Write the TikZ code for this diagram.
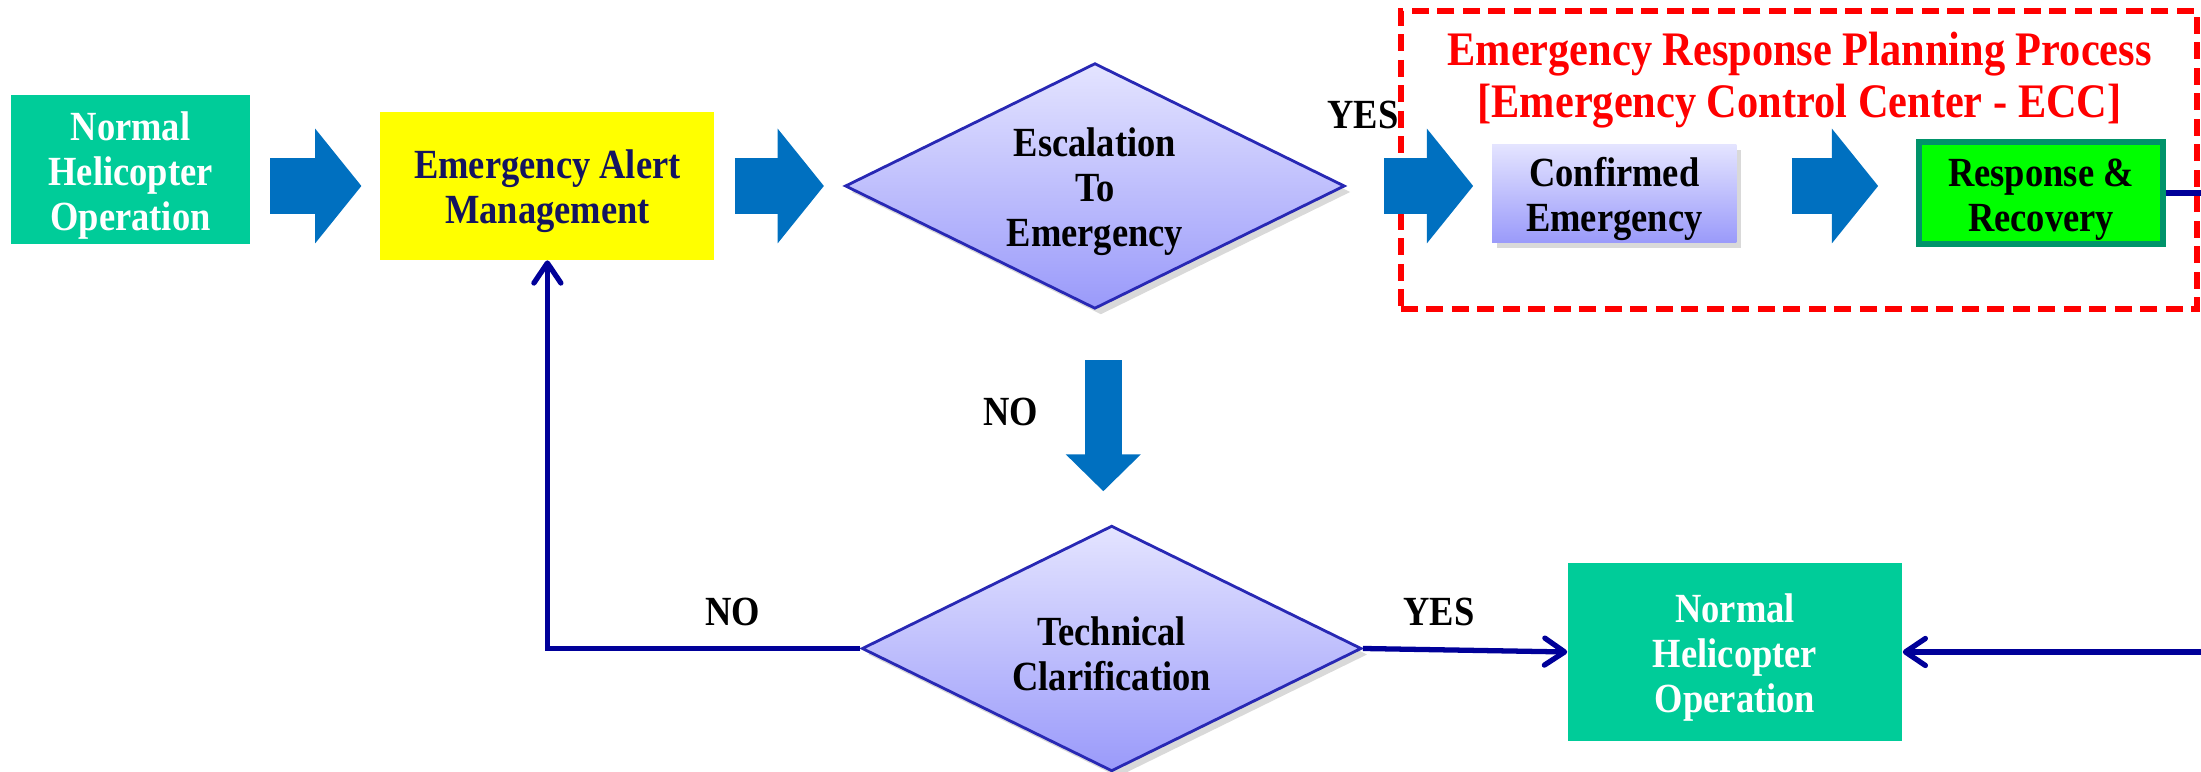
\documentclass[tikz,border=0pt]{standalone}
\usepackage{fontspec}
\setmainfont{Liberation Serif}[FakeStretch=0.88]
\usetikzlibrary{shapes.geometric,positioning,arrows.meta,shadows,calc}
\definecolor{opteal}{HTML}{00CC99}
\definecolor{alertyellow}{HTML}{FFFF00}
\definecolor{alertnavy}{HTML}{14145F}
\definecolor{flowblue}{HTML}{0070C0}
\definecolor{linknavy}{HTML}{000099}
\definecolor{diatop}{HTML}{E4E4FF}
\definecolor{diabot}{HTML}{9A9AFA}
\definecolor{diaedge}{HTML}{2828B4}
\definecolor{recgreen}{HTML}{00FF00}
\definecolor{recedge}{HTML}{00936A}
\definecolor{eccred}{HTML}{FF0000}
\newcommand{\boxtop}{\rule{0pt}{11.4pt}}

\begin{document}
\begin{tikzpicture}[
txt/.style={font=\fontsize{11.8}{12.8}\selectfont\bfseries, align=center},
boxtxt/.style={txt, inner sep=0pt},
opbox/.style={boxtxt, fill=opteal, text=white},
alertbox/.style={boxtxt, fill=alertyellow, text=alertnavy,
	minimum width=3.341cm, minimum height=1.474cm},
decision/.style={boxtxt, diamond, aspect=2,
	top color=diatop, bottom color=diabot, draw=diaedge, line width=0.8pt,
	drop shadow={shadow xshift=0.06cm, shadow yshift=-0.06cm, opacity=0.3},
	minimum width=4.997cm, minimum height=2.456cm},
confbox/.style={boxtxt, top color=diatop, bottom color=diabot,
	drop shadow={shadow xshift=0.05cm, shadow yshift=-0.05cm, opacity=0.3},
	minimum width=2.442cm, minimum height=0.983cm},
recbox/.style={boxtxt, fill=recgreen, draw=recedge, line width=1.6pt,
	minimum width=2.442cm, minimum height=1.025cm},
eccbox/.style={draw=eccred, line width=1.6pt, dash pattern=on 0.17cm off 0.085cm,
	minimum width=7.959cm, minimum height=2.976cm},
ecctitle/.style={font=\fontsize{13.7}{14.8}\selectfont\bfseries, text=eccred, align=center},
blockarrow/.style={draw=flowblue, line width=0.561cm,
	-{Triangle[length=0.463cm,width=1.123cm]}},
downarrow/.style={draw=flowblue, line width=0.37cm,
	-{Triangle[length=0.37cm,width=0.73cm]}},
link/.style={draw=linknavy, line width=1.5pt,
	-{Straight Barb[length=0.2cm,width=0.27cm,round]}},
answer/.style={txt},
]
	\useasboundingbox (0,0) rectangle (22.01,-7.72);

	% emergency control center frame
	\node[eccbox] (ecc) at (17.989,-1.600) {};
	\node[ecctitle] (title) at (17.996,-0.80) {Emergency Response Planning Process\\{[}Emergency Control Center - ECC{]}};

	% top row
	\node[opbox, minimum width=2.386cm, minimum height=1.488cm] (normalA) at (1.305,-1.698) {\boxtop Normal\\Helicopter\\Operation};
	\node[alertbox] (alert) at (5.474,-1.860) {\boxtop Emergency Alert\\Management};
	\node[decision] (escal) at (10.949,-1.860) {\boxtop Escalation\\To\\Emergency};
	\node[confbox] (confirm) at (16.143,-1.937) {\boxtop Confirmed\\Emergency};
	\node[recbox] (recover) at (20.410,-1.930) {\boxtop Response \&\\Recovery};

	% bottom row
	\node[decision] (clarif) at (11.117,-6.485) {\boxtop Technical\\Clarification};
	\node[opbox, minimum width=3.341cm, minimum height=1.783cm] (normalB) at (17.350,-6.520) {\boxtop Normal\\Helicopter\\Operation};

	% answers
	\node[answer] (yesA) at (13.63,-1.151) {YES};
	\node[answer] (noA) at (10.11,-4.115) {NO};
	\node[answer] (noB) at (7.327,-6.12) {NO};
	\node[answer] (yesB) at (14.388,-6.12) {YES};

	% block arrows
	\draw[blockarrow, shorten <=0.197cm, shorten >=0.182cm] (normalA.east |- alert.west) -- (alert.west);
	\draw[blockarrow, shorten <=0.197cm, shorten >=0.197cm] (alert.east) -- (escal.west);
	\draw[blockarrow, shorten <=0.379cm, shorten >=0.183cm] (escal.east) -- (confirm.west |- escal.east);
	\draw[blockarrow, shorten <=0.547cm, shorten >=0.379cm] (confirm.east |- escal.east) -- (recover.west |- escal.east);
	\coordinate (between) at ($(escal.south)!0.5!(clarif.north)$);
	\draw[downarrow, shorten <=0.50cm, shorten >=0.33cm] (between |- escal.south) -- (between |- clarif.north);

	% thin connectors
	\coordinate (loopR) at (22.4,-1.930);
	\draw[link] (clarif.west) -| (alert.south);
	\draw[link] (clarif.east) -- (normalB.west);
	\draw[link] (recover.east) -- (loopR) |- (normalB.east);
\end{tikzpicture}
\end{document}
